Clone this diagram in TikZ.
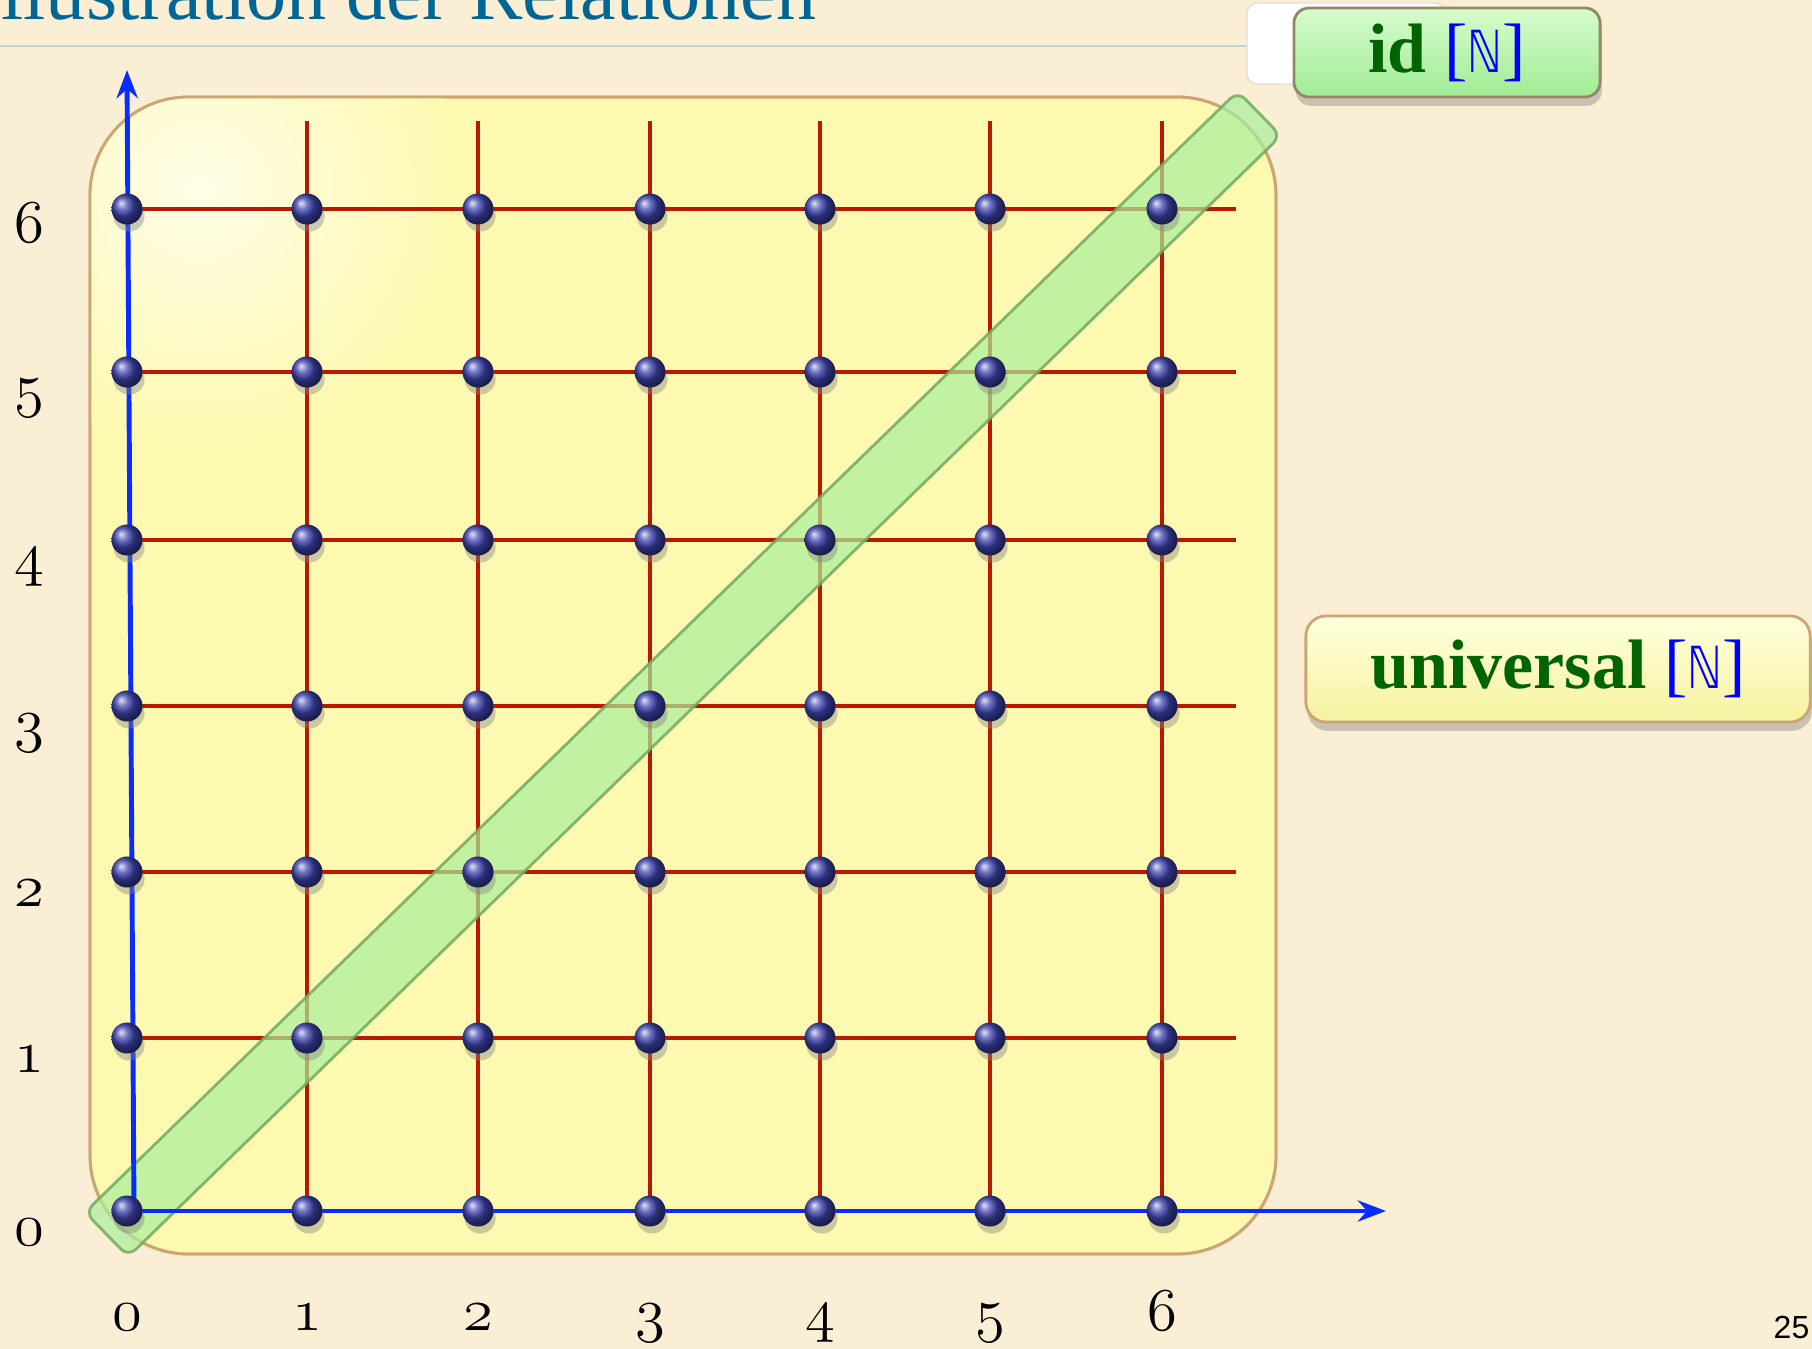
\documentclass[tikz,border=0pt]{standalone}
\usepackage{fontspec}
\usepackage{graphicx}
\usepackage{tikz}
\usetikzlibrary{positioning,calc,arrows.meta,shadows}
\newfontfamily\titlefont{Liberation Serif}
\newfontfamily\labelfont{Liberation Serif}
\newfontfamily\natfont{DejaVu Sans}
\newfontfamily\pagefont{Liberation Sans}
\definecolor{paper}{RGB}{250,238,212}
\definecolor{titleblue}{RGB}{0,102,150}
\definecolor{rulegray}{RGB}{190,212,212}
\definecolor{boxyellow}{RGB}{253,249,176}
\definecolor{boxedge}{RGB}{205,165,115}
\definecolor{gridred}{RGB}{185,25,0}
\definecolor{axisblue}{RGB}{10,45,255}
\definecolor{dotblue}{RGB}{62,68,175}
\definecolor{barfill}{RGB}{170,238,155}
\definecolor{baredge}{RGB}{115,170,95}
\definecolor{idtop}{RGB}{215,252,205}
\definecolor{idbottom}{RGB}{160,236,148}
\definecolor{idedge}{RGB}{150,135,100}
\definecolor{untop}{RGB}{255,255,222}
\definecolor{unbottom}{RGB}{246,242,160}
\definecolor{textgreen}{RGB}{0,100,0}
\definecolor{natblue}{RGB}{0,0,255}
\newcommand{\osnum}[1]{{\usefont{OML}{lmm}{b}{it}#1}}
\newcommand{\natset}{\textcolor{natblue}{\labelfont\mdseries[{\natfont\fontsize{16.5}{18}\selectfont\scalebox{0.75}[1]{ℕ}}]}}
\tikzset{DOT/.style={circle,inner sep=0pt,minimum size=0.31cm,shading=ball,ball color=dotblue,drop shadow={shadow xshift=0.6pt,shadow yshift=-2pt,opacity=0.4}}}
\tikzset{GRID/.style={gridred,line width=1.2pt}}
\tikzset{AXIS/.style={axisblue,line width=1.4pt,-{Stealth[length=8pt,width=6pt]}}}
\tikzset{BAR/.style={rectangle,rounded corners=3pt,draw=baredge,fill=barfill,fill opacity=0.7,draw opacity=0.85,line width=0.8pt,minimum width=16.07cm,minimum height=0.62cm,inner sep=0pt}}
\tikzset{TAG/.style={rectangle,rounded corners=5pt,line width=0.8pt,font=\labelfont\bfseries\fontsize{19.9}{22}\selectfont,text=textgreen,inner sep=0pt,drop shadow={shadow xshift=0.5pt,shadow yshift=-2.5pt,opacity=0.4}}}
\tikzset{NUM/.style={anchor=base,inner sep=0pt,font=\fontsize{18.5}{20}\selectfont}}

\begin{document}
\begin{tikzpicture}[x=0.01cm,y=-0.01cm]
\useasboundingbox (0,0) rectangle (1812,1349);
\fill[paper] (0,0) rectangle (1812,1349);

% heading, cut at the top
\node[anchor=base east,inner sep=0pt,text=titleblue,font=\titlefont\fontsize{22.8}{24}\selectfont] (n_title) at (817,20) {Illustration der Relationen};
\node[rectangle,rounded corners=3pt,draw=gray!25,fill=white,minimum width=1.98cm,minimum height=0.81cm,inner sep=0pt] (n_blank) at (1346,43.5) {};
\coordinate (c_rule_0) at (0,46);
\draw[rulegray,line width=0.6pt] (c_rule_0) -- (c_rule_0 -| n_blank.west);

\node[TAG,top color=idtop,bottom color=idbottom,draw=idedge,minimum width=3.06cm,minimum height=0.89cm,rounded corners=4.3pt] (n_id) at (1447,52.5) {id \natset};

% the set N x N
\draw[fill=boxyellow,draw=boxedge,line width=0.8pt,rounded corners=28pt] (90,97) rectangle (1276,1254);
\begin{scope}
\clip[rounded corners=28pt] (90,97) rectangle (1276,1254);
\shade[inner color=white!70!boxyellow,outer color=boxyellow] (200,190) circle (260);
\end{scope}
\draw[draw=boxedge,line width=0.8pt,rounded corners=28pt] (90,97) rectangle (1276,1254);

\coordinate (c_col_0) at (127,1211);
\coordinate (c_col_1) at (307,1211);
\coordinate (c_col_2) at (478,1211);
\coordinate (c_col_3) at (650,1211);
\coordinate (c_col_4) at (820,1211);
\coordinate (c_col_5) at (990,1211);
\coordinate (c_col_6) at (1162,1211);

\coordinate (c_row_0) at (127,1211);
\coordinate (c_row_1) at (127,1038);
\coordinate (c_row_2) at (127,872);
\coordinate (c_row_3) at (127,706);
\coordinate (c_row_4) at (127,540);
\coordinate (c_row_5) at (127,372);
\coordinate (c_row_6) at (127,209);

\coordinate (c_top) at (0,121);
\coordinate (c_right) at (1236,0);

\foreach \i in {1,...,6}
  \draw[GRID] (c_col_\i) -- (c_col_\i |- c_top);
\foreach \j in {1,...,6}
  \draw[GRID] (c_row_\j) -- (c_row_\j -| c_right);

\node[BAR,rotate=44.2] (n_diag) at (683,674) {};

\coordinate (c_xtip) at (1386,1211);
\coordinate (c_yfoot) at (134,1211);
\coordinate (c_ytip) at (127,70);
\draw[AXIS] (c_col_0) -- (c_xtip);
\draw[AXIS] (c_yfoot) -- (c_ytip);

\foreach \i in {0,...,6}
  \foreach \j in {0,...,6}
    \node[DOT] (n_dot_\i_\j) at (c_col_\i |- c_row_\j) {};

\foreach \i in {0,...,6}
  \node[NUM] (n_xlab_\i) at ($(c_col_\i)+(0,119)$) {\osnum{\i}};
\foreach \j in {0,...,6}
  \node[NUM] (n_ylab_\j) at ($(c_row_\j)+(-98,34)$) {\osnum{\j}};

\node[TAG,top color=untop,bottom color=unbottom,draw=boxedge,minimum width=5.04cm,minimum height=1.06cm,rounded corners=5.7pt] (n_univ) at (1558,669) {universal \natset};

\node[anchor=base east,inner sep=0pt,font=\pagefont\fontsize{9.1}{10}\selectfont] (n_page) at (1810,1338) {25};

\end{tikzpicture}
\end{document}
